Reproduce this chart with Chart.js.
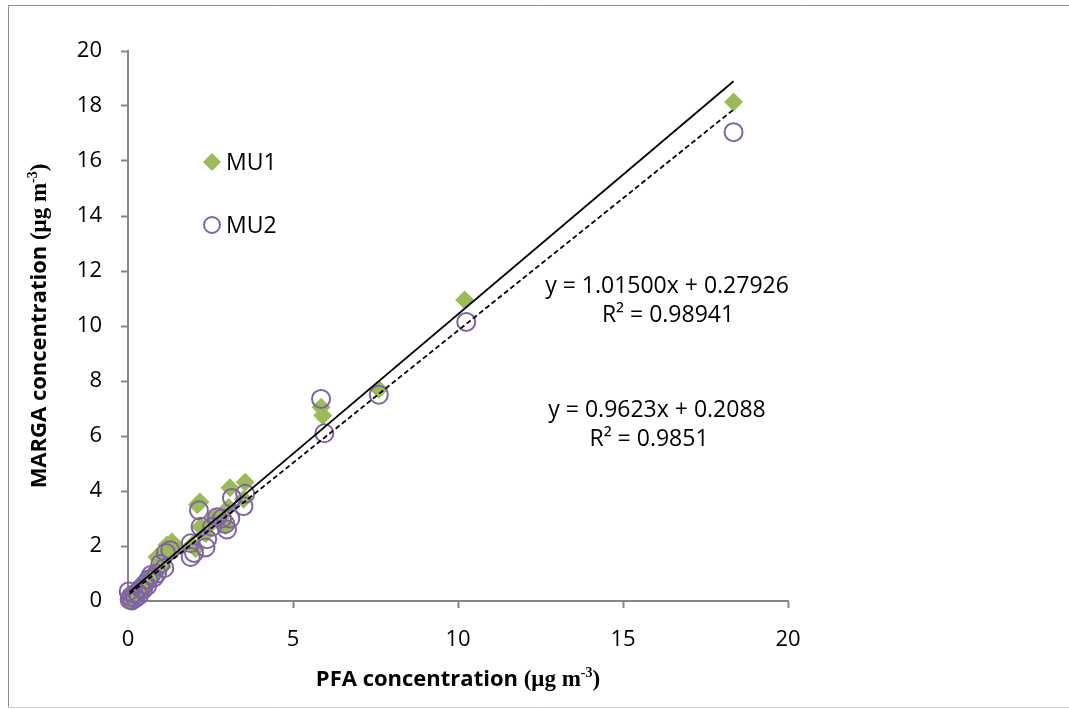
<!DOCTYPE html>
<html><head><meta charset="utf-8">
<script src="https://cdn.jsdelivr.net/npm/chart.js@4/dist/chart.umd.min.js"></script>
<style>html,body{margin:0;padding:0;background:#fff}canvas{display:block}</style>
</head><body>
<canvas id="c" width="1069" height="709"></canvas>
<script>
// ---- data ----
const mu1X = [0.05,0.08,0.12,0.15,0.20,0.25,0.30,0.35,0.42,0.48,0.55,0.60,0.68,0.75,0.85,0.88,0.95,1.05,1.10,1.18,1.22,1.33,1.50,1.95,2.05,2.10,2.18,2.20,2.35,2.50,2.65,2.80,2.95,3.05,3.09,3.55,3.50,5.85,5.90,7.60,10.20,18.35];
const mu1Y = [0.10,0.22,0.05,0.30,0.18,0.35,0.28,0.50,0.45,0.62,0.70,0.80,0.92,0.88,1.05,1.60,1.30,1.25,1.70,2.04,1.85,2.15,1.95,2.05,1.90,3.50,3.60,2.70,2.45,2.80,3.05,3.00,2.75,3.40,4.12,4.32,3.70,7.05,6.75,7.70,10.95,18.15];
const mu2X = [0.02,0.05,0.08,0.12,0.18,0.22,0.28,0.33,0.38,0.45,0.50,0.58,0.62,0.70,0.78,0.88,0.98,1.10,1.15,1.28,1.90,1.90,2.00,2.15,2.20,2.35,2.40,2.55,2.70,2.85,2.95,3.00,3.10,3.15,3.50,3.55,5.85,5.95,7.60,10.25,18.35];
const mu2Y = [0.35,0.05,0.15,0.02,0.25,0.10,0.30,0.20,0.45,0.40,0.60,0.55,0.78,0.95,0.85,1.00,1.35,1.20,1.75,1.85,1.60,2.10,1.75,3.30,2.70,1.95,2.25,2.70,3.05,3.00,2.80,2.60,3.00,3.75,3.45,3.90,7.35,6.10,7.50,10.15,17.05];
const trend1X = [0.05, 18.35];
const trend1Y = [0.33, 18.90];
const trend2X = [0.05, 18.35];
const trend2Y = [0.26, 17.87];
const seriesNames = ['MU1', 'MU2'];
const eq1Text = ['y = 1.01500x + 0.27926', 'R\u00B2 = 0.98941'];
const eq2Text = ['y = 0.9623x + 0.2088', 'R\u00B2 = 0.9851'];
const xTitle = ['PFA concentration ', '(\u03BCg m', '-3', ')'];
const yTitle = ['MARGA concentration ', '(\u03BCg m', '-3', ')'];
const xMin = 0, xMax = 20, xStep = 5;
const yMin = 0, yMax = 20, yStep = 2;

const GREEN = '#9BBB59', PURPLE = '#8064A2', AXIS = '#868686';
const SANS = '"Open Sans"';

function pts(xs, ys) { return xs.map((x, i) => ({x: x, y: ys[i]})); }

function drawTitle(ctx, parts, cx, cy, rotate) {
  const fMain = 'bold 22px ' + SANS;
  const fSerif = 'bold 23px "Liberation Serif"';
  const fSup = 'bold 14px "Liberation Serif"';
  ctx.save();
  ctx.translate(cx, cy);
  if (rotate) ctx.rotate(-Math.PI / 2);
  ctx.fillStyle = '#000';
  ctx.textBaseline = 'alphabetic';
  ctx.textAlign = 'left';
  const fonts = [fMain, fSerif, fSup, fSerif];
  let widths = parts.map((p, i) => { ctx.font = fonts[i]; return ctx.measureText(p).width; });
  const total = widths.reduce((a, b) => a + b, 0);
  let x = -total / 2;
  const base = 8;
  parts.forEach((p, i) => {
    ctx.font = fonts[i];
    ctx.fillText(p, x, i === 2 ? base - 9 : base);
    x += widths[i];
  });
  ctx.restore();
}

const overlay = {
  id: 'overlay',
  beforeDraw(chart) {
    const ctx = chart.ctx;
    ctx.save();
    ctx.fillStyle = '#fff';
    ctx.fillRect(0, 0, chart.width, chart.height);
    ctx.lineWidth = 1;
    ctx.strokeStyle = '#8c8c8c';
    ctx.beginPath();
    ctx.moveTo(8.5, 707); ctx.lineTo(8.5, 5.5); ctx.lineTo(1069, 5.5);
    ctx.stroke();
    ctx.strokeStyle = '#d0d0d0';
    ctx.beginPath();
    ctx.moveTo(8.5, 707.5); ctx.lineTo(1069, 707.5);
    ctx.stroke();
    ctx.restore();
  },
  afterDraw(chart) {
    const ctx = chart.ctx;
    ctx.save();
    // legend
    const ds = chart.data.datasets;
    ctx.textBaseline = 'middle';
    ctx.textAlign = 'left';
    const legendItems = [
      {d: ds[2], y: 162},
      {d: ds[3], y: 225}
    ];
    legendItems.forEach(it => {
      ctx.fillStyle = it.d.backgroundColor;
      ctx.strokeStyle = it.d.borderColor;
      ctx.lineWidth = it.d.borderWidth;
      ctx.beginPath();
      if (it.d.pointStyle === 'rectRot') {
        ctx.moveTo(212 - 9, it.y); ctx.lineTo(212, it.y - 9); ctx.lineTo(212 + 9, it.y); ctx.lineTo(212, it.y + 9); ctx.closePath();
        ctx.fill();
      } else {
        ctx.arc(212, it.y, 8, 0, Math.PI * 2);
        ctx.stroke();
      }
      ctx.font = '23px ' + SANS;
      ctx.fillStyle = '#000';
      ctx.fillText(it.d.label, 226, it.y + 1);
    });
    // trendline equations
    ctx.font = '23px ' + SANS;
    ctx.textAlign = 'center';
    ctx.fillText(eq1Text[0], 667, 286);
    ctx.fillText(eq1Text[1], 668, 315);
    ctx.fillText(eq2Text[0], 657, 410);
    ctx.fillText(eq2Text[1], 649, 439);
    ctx.restore();
    // axis titles
    const a = chart.chartArea;
    drawTitle(ctx, xTitle, (a.left + a.right) / 2, 678, false);
    drawTitle(ctx, yTitle, 38, (a.top + a.bottom) / 2, true);
  }
};

const tickFont = {family: 'Open Sans', size: 22};

new Chart(document.getElementById('c'), {
  type: 'scatter',
  data: {
    datasets: [
      {label: 'MU1 trend', data: pts(trend1X, trend1Y), showLine: true, pointRadius: 0, borderColor: '#000', borderWidth: 1.8, order: 0},
      {label: 'MU2 trend', data: pts(trend2X, trend2Y), showLine: true, pointRadius: 0, borderColor: '#000', borderWidth: 1.8, borderDash: [5, 3], order: 0},
      {label: seriesNames[0], data: pts(mu1X, mu1Y), pointStyle: 'rectRot', pointRadius: 9.5, backgroundColor: GREEN, borderColor: GREEN, borderWidth: 0, order: 2, clip: false},
      {label: seriesNames[1], data: pts(mu2X, mu2Y), pointStyle: 'circle', pointRadius: 9, backgroundColor: 'rgba(0,0,0,0)', borderColor: PURPLE, borderWidth: 2, order: 1, clip: false}
    ]
  },
  options: {
    responsive: false,
    animation: false,
    events: [],
    layout: {padding: {left: 8, top: 51, right: 281, bottom: 0}},
    plugins: {legend: {display: false}, tooltip: {enabled: false}},
    scales: {
      x: {
        type: 'linear', min: xMin, max: xMax,
        ticks: {stepSize: xStep, font: tickFont, color: '#000', padding: 19, maxRotation: 0},
        grid: {drawOnChartArea: false, drawTicks: true, tickLength: 7, tickColor: AXIS, tickWidth: 2},
        border: {color: AXIS, width: 2},
        afterFit(s) { s.height = 108; }
      },
      y: {
        type: 'linear', min: yMin, max: yMax,
        ticks: {stepSize: yStep, font: tickFont, color: '#000', padding: 19},
        grid: {drawOnChartArea: false, drawTicks: true, tickLength: 7, tickColor: AXIS, tickWidth: 2},
        border: {color: AXIS, width: 2},
        afterFit(s) { s.width = 120; }
      }
    }
  },
  plugins: [overlay]
});
</script>
</body></html>
